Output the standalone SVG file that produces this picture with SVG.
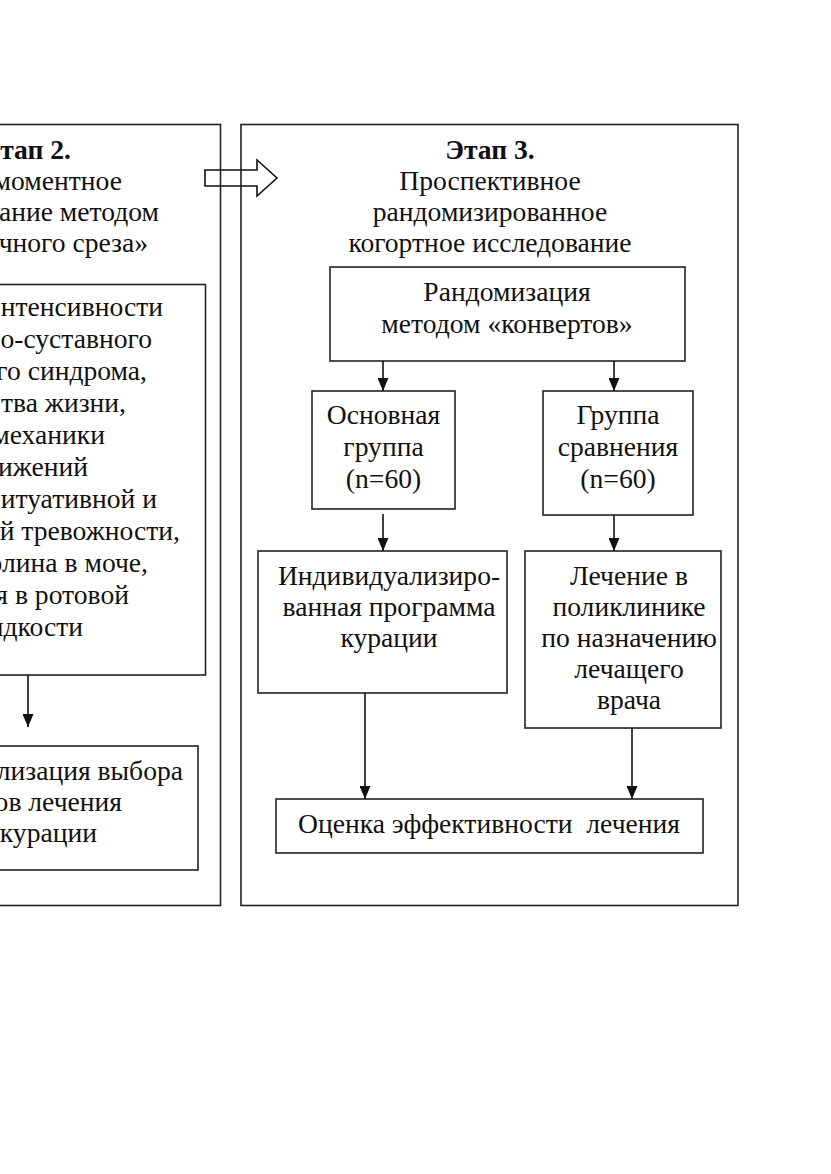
<svg xmlns="http://www.w3.org/2000/svg" width="831" height="1174" viewBox="0 0 831 1174">
  <style>
    .box { fill: none; stroke: #222; stroke-width: 1.6; }
    .t { font-family: "Liberation Serif", "Times New Roman", serif; font-size: 27.6px; fill: #111; }
    .c { text-anchor: middle; }
    .e { text-anchor: end; }
    .b { font-weight: bold; }
    .ln { stroke: #111; stroke-width: 1.6; fill: none; }
  </style>
  <defs>
    <marker id="ah" markerUnits="userSpaceOnUse" markerWidth="13" markerHeight="11" refX="13" refY="5.5" orient="auto">
      <path d="M0,0 L13,5.5 L0,11 z" fill="#111"/>
    </marker>
  </defs>
  <rect width="831" height="1174" fill="#fff"/>

  <g id="stage2">
    <rect class="box" x="-10" y="124.5" width="230.5" height="781"/>
    <text class="t b e" x="71" y="159">Этап 2.</text>
    <text class="t e" x="122" y="190">моментное</text>
    <text class="t e" x="159" y="221">ание методом</text>
    <text class="t e" x="148" y="252">чного среза»</text>
  </g>

  <g id="stage2-measures">
    <rect class="box" x="-10" y="284.5" width="215.5" height="390.5"/>
    <text class="t e" x="163" y="316">нтенсивности</text>
    <text class="t e" x="152" y="348">о-суставного</text>
    <text class="t e" x="147" y="380">го синдрома,</text>
    <text class="t e" x="126" y="412">тва жизни,</text>
    <text class="t e" x="105" y="444">механики</text>
    <text class="t e" x="88" y="476">ижений</text>
    <text class="t e" x="157" y="508">итуативной и</text>
    <text class="t e" x="180" y="540">й тревожности,</text>
    <text class="t e" x="148" y="572">олина в моче,</text>
    <text class="t e" x="129" y="604">я в ротовой</text>
    <text class="t e" x="83" y="636">идкости</text>
  </g>

  <g id="stage2-choice">
    <rect class="box" x="-10" y="746" width="208" height="124"/>
    <text class="t e" x="183" y="780">лизация выбора</text>
    <text class="t e" x="122" y="811">ов лечения</text>
    <text class="t e" x="97" y="842">курации</text>
  </g>

  <g id="stage3">
    <rect class="box" x="241" y="124.5" width="497" height="781"/>
    <text class="t b c" x="490" y="159">Этап 3.</text>
    <text class="t c" x="490" y="190">Проспективное</text>
    <text class="t c" x="490" y="221">рандомизированное</text>
    <text class="t c" x="490" y="252">когортное исследование</text>
  </g>

  <g id="randomization">
    <rect class="box" x="330" y="267" width="355" height="94"/>
    <text class="t c" x="507" y="301">Рандомизация</text>
    <text class="t c" x="507" y="333">методом «конвертов»</text>
  </g>

  <g id="main-group">
    <rect class="box" x="312" y="391" width="143" height="118"/>
    <text class="t c" x="383.5" y="424">Основная</text>
    <text class="t c" x="383.5" y="456">группа</text>
    <text class="t c" x="383.5" y="488">(n=60)</text>
  </g>

  <g id="comparison-group">
    <rect class="box" x="543" y="391" width="150" height="124"/>
    <text class="t c" x="618" y="424">Группа</text>
    <text class="t c" x="618" y="456">сравнения</text>
    <text class="t c" x="618" y="488">(n=60)</text>
  </g>

  <g id="individual-program">
    <rect class="box" x="258" y="551" width="249" height="142"/>
    <text class="t c" x="389" y="585">Индивидуализиро-</text>
    <text class="t c" x="389" y="616">ванная программа</text>
    <text class="t c" x="389" y="647">курации</text>
  </g>

  <g id="polyclinic">
    <rect class="box" x="525" y="551" width="196" height="177"/>
    <text class="t c" x="629" y="585">Лечение в</text>
    <text class="t c" x="629" y="616">поликлинике</text>
    <text class="t c" x="629" y="647">по назначению</text>
    <text class="t c" x="629" y="678">лечащего</text>
    <text class="t c" x="629" y="709">врача</text>
  </g>

  <g id="evaluation">
    <rect class="box" x="276" y="799" width="427" height="54"/>
    <text class="t c" x="489" y="833" xml:space="preserve">Оценка эффективности  лечения</text>
  </g>

  <g id="connectors">
    <polygon class="ln" points="205,170 257,170 257,160 277,178 257,196 257,186 205,186"/>
    <line class="ln" x1="28" y1="675" x2="28" y2="727" marker-end="url(#ah)"/>
    <line class="ln" x1="383" y1="361" x2="383" y2="391" marker-end="url(#ah)"/>
    <line class="ln" x1="614" y1="361" x2="614" y2="391" marker-end="url(#ah)"/>
    <line class="ln" x1="383" y1="514" x2="383" y2="551" marker-end="url(#ah)"/>
    <line class="ln" x1="614" y1="515" x2="614" y2="551" marker-end="url(#ah)"/>
    <line class="ln" x1="365" y1="693" x2="365" y2="799" marker-end="url(#ah)"/>
    <line class="ln" x1="632" y1="728" x2="632" y2="799" marker-end="url(#ah)"/>
  </g>
</svg>
